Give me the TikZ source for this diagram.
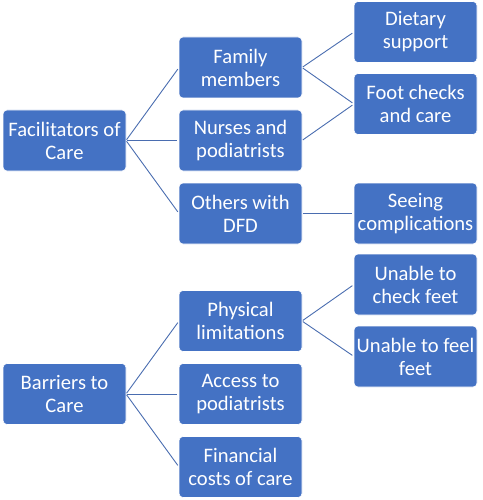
\documentclass[tikz,border=0pt]{standalone}
\usepackage{fontspec}
\setmainfont{Carlito}
\usetikzlibrary{positioning}
\definecolor{boxblue}{HTML}{4472C4}
\definecolor{lineblue}{HTML}{4A6DB0}
\tikzstyle{topic}=[rectangle,rounded corners=4pt,draw=white,line width=0.6pt,
fill=boxblue,text=white,minimum width=123pt,minimum height=61pt,
inner sep=0pt,outer sep=0pt,align=center,font=\fontsize{20.6}{23}\selectfont]
\tikzstyle{link}=[draw=lineblue,line width=0.9pt,shorten >=2pt,shorten <=1pt]

\begin{document}
\begin{tikzpicture}[x=1pt,y=1pt]
            \useasboundingbox (0,0) rectangle (482,-500);

            % FACILITATORS PART

            \node[topic] (fac) at (64.5,-140.5) {Facilitators of\\Care};
            \node[topic, right=53pt of fac] (nur) {Nurses and\\podiatrists};
            \node[topic, above=12pt of nur] (fam) {Family\\members};
            \node[topic, below=12pt of nur] (oth) {Others with\\DFD};
            \node[topic, right=52pt of fam, yshift=-36.5pt] (foot) {Foot checks\\and care};
            \node[topic, above=11pt of foot] (diet) {Dietary\\support};
            \node[topic, right=52pt of oth] (seen) {Seeing\\complications};

            \path (fac.east) edge[link] (fam.west);
            \path (fac.east) edge[link] (nur.west);
            \path (fac.east) edge[link] (oth.west);
            \path (fam.east) edge[link] (diet.west);
            \path (fam.east) edge[link] (foot.west);
            \path (nur.east) edge[link] (foot.west);
            \path (oth.east) edge[link] (seen.west);

            % BARRIERS PART

            \node[topic, below=192.5pt of fac] (bar) {Barriers to\\Care};
            \node[topic, right=53pt of bar] (acc) {Access to\\podiatrists};
            \node[topic, above=12pt of acc] (phy) {Physical\\limitations};
            \node[topic, below=12pt of acc] (fin) {Financial\\costs of care};
            \node[topic, right=52pt of phy, yshift=36.5pt] (chk) {Unable to\\check feet};
            \node[topic, below=11pt of chk] (feel) {Unable to feel\\feet};

            \path (bar.east) edge[link] (phy.west);
            \path (bar.east) edge[link] (acc.west);
            \path (bar.east) edge[link] (fin.west);
            \path (phy.east) edge[link] (chk.west);
            \path (phy.east) edge[link] (feel.west);

\end{tikzpicture}
\end{document}
